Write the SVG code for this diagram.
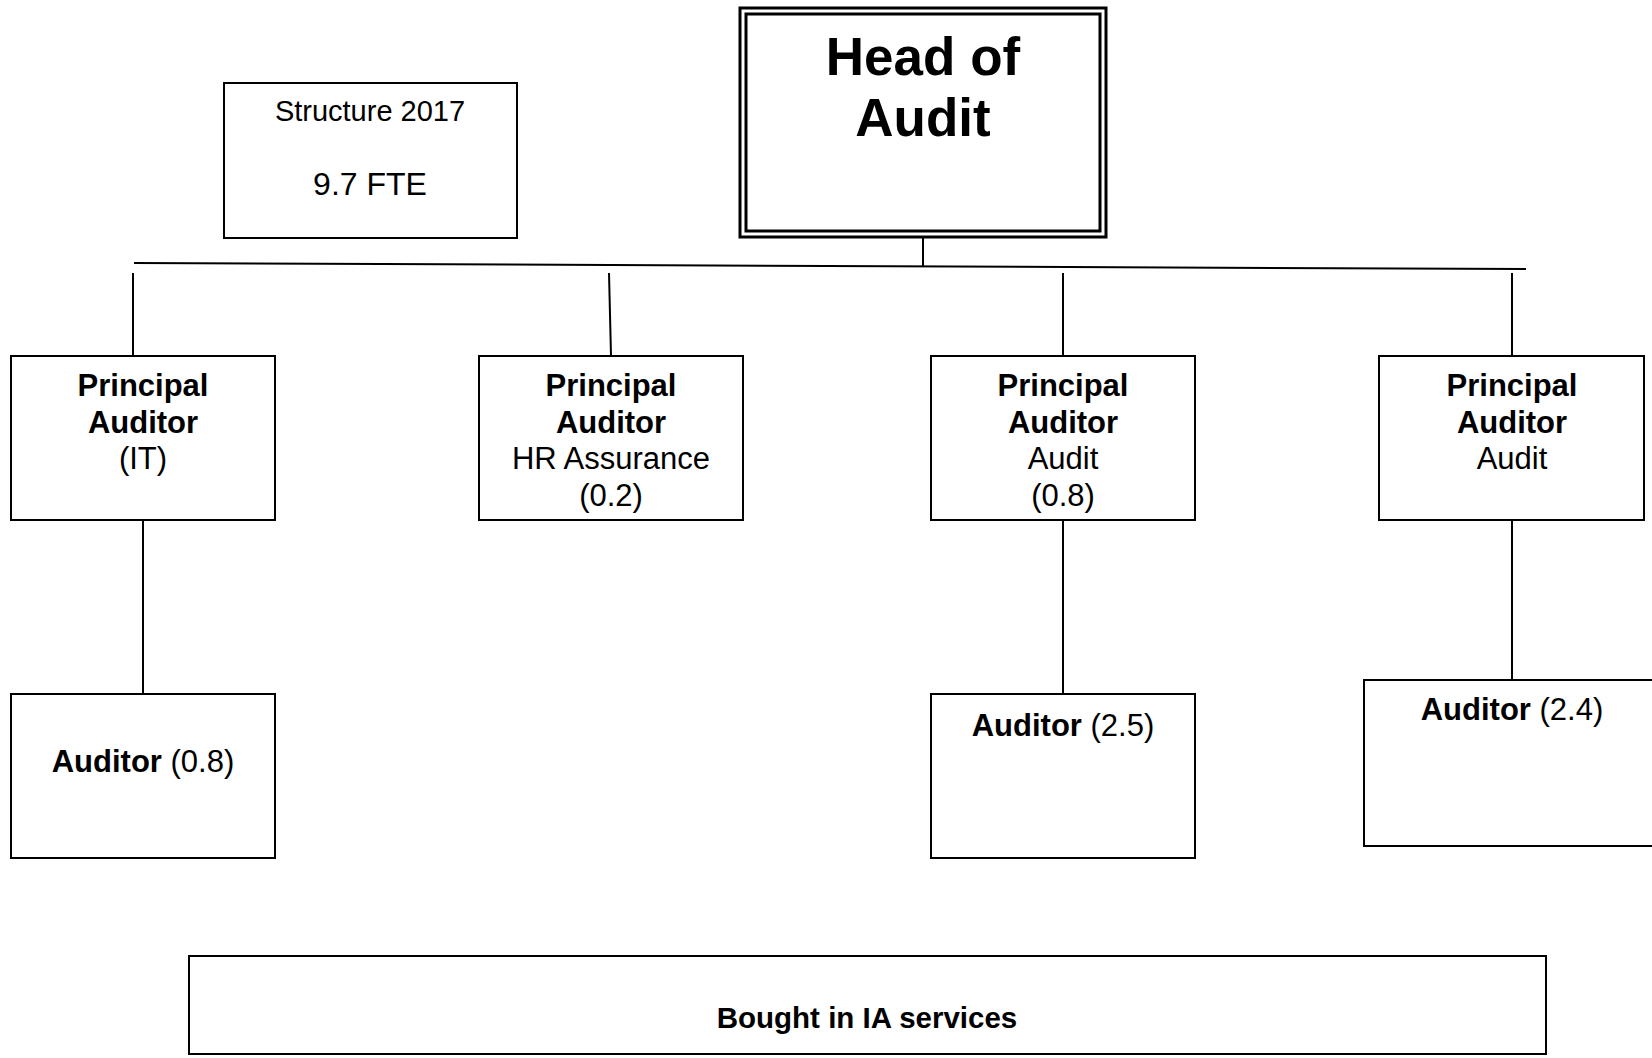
<svg xmlns="http://www.w3.org/2000/svg" width="1652" height="1058" viewBox="0 0 1652 1058">
<style>
.box{fill:#fff;stroke:#000;stroke-width:2}
.ln{stroke:#000;stroke-width:2;fill:none}
text{font-family:"Liberation Sans",Arial,sans-serif;fill:#000;text-anchor:middle}
.b{font-weight:bold}
.t{font-size:31px}
</style>
<rect width="1652" height="1058" fill="#fff"/>
<g id="connectors">
<line class="ln" x1="923" y1="237" x2="923" y2="267"/>
<line class="ln" x1="134" y1="263" x2="1526" y2="269"/>
<line class="ln" x1="133" y1="273" x2="133" y2="356"/>
<line class="ln" x1="609" y1="273" x2="611" y2="356"/>
<line class="ln" x1="1063" y1="273" x2="1063" y2="356"/>
<line class="ln" x1="1512" y1="273" x2="1512" y2="356"/>
<line class="ln" x1="143" y1="520" x2="143" y2="694"/>
<line class="ln" x1="1063" y1="520" x2="1063" y2="694"/>
<line class="ln" x1="1512" y1="520" x2="1512" y2="680"/>
</g>
<g id="structure">
<rect class="box" x="224" y="83" width="293" height="155"/>
<text x="370" y="121" font-size="29">Structure 2017</text>
<text x="370" y="195" font-size="32">9.7 FTE</text>
</g>
<g id="head">
<rect x="740" y="8" width="366" height="229" fill="#fff" stroke="#000" stroke-width="3"/>
<rect x="746" y="14" width="354" height="217" fill="none" stroke="#000" stroke-width="3"/>
<text class="b" x="923" y="75" font-size="53">Head of</text>
<text class="b" x="923" y="136" font-size="53">Audit</text>
</g>
<g id="pa-it">
<rect class="box" x="11" y="356" width="264" height="164"/>
<text class="t" x="143" y="396"><tspan class="b">Principal</tspan><tspan class="b" x="143" dy="36.5">Auditor</tspan><tspan x="143" dy="36.5">(IT)</tspan></text>
</g>
<g id="pa-hr">
<rect class="box" x="479" y="356" width="264" height="164"/>
<text class="t" x="611" y="396"><tspan class="b">Principal</tspan><tspan class="b" x="611" dy="36.5">Auditor</tspan><tspan x="611" dy="36.5">HR Assurance</tspan><tspan x="611" dy="36.5">(0.2)</tspan></text>
</g>
<g id="pa-audit1">
<rect class="box" x="931" y="356" width="264" height="164"/>
<text class="t" x="1063" y="396"><tspan class="b">Principal</tspan><tspan class="b" x="1063" dy="36.5">Auditor</tspan><tspan x="1063" dy="36.5">Audit</tspan><tspan x="1063" dy="36.5">(0.8)</tspan></text>
</g>
<g id="pa-audit2">
<rect class="box" x="1379" y="356" width="265" height="164"/>
<text class="t" x="1512" y="396"><tspan class="b">Principal</tspan><tspan class="b" x="1512" dy="36.5">Auditor</tspan><tspan x="1512" dy="36.5">Audit</tspan></text>
</g>
<g id="aud-it">
<rect class="box" x="11" y="694" width="264" height="164"/>
<text class="t" x="143" y="772"><tspan class="b">Auditor</tspan> (0.8)</text>
</g>
<g id="aud-25">
<rect class="box" x="931" y="694" width="264" height="164"/>
<text class="t" x="1063" y="736"><tspan class="b">Auditor</tspan> (2.5)</text>
</g>
<g id="aud-24">
<rect class="box" x="1364" y="680" width="300" height="166"/>
<text class="t" x="1512" y="720"><tspan class="b">Auditor</tspan> (2.4)</text>
</g>
<g id="bought">
<rect class="box" x="189" y="956" width="1357" height="98"/>
<text class="b" x="867" y="1028" font-size="29.5">Bought in IA services</text>
</g>
</svg>
